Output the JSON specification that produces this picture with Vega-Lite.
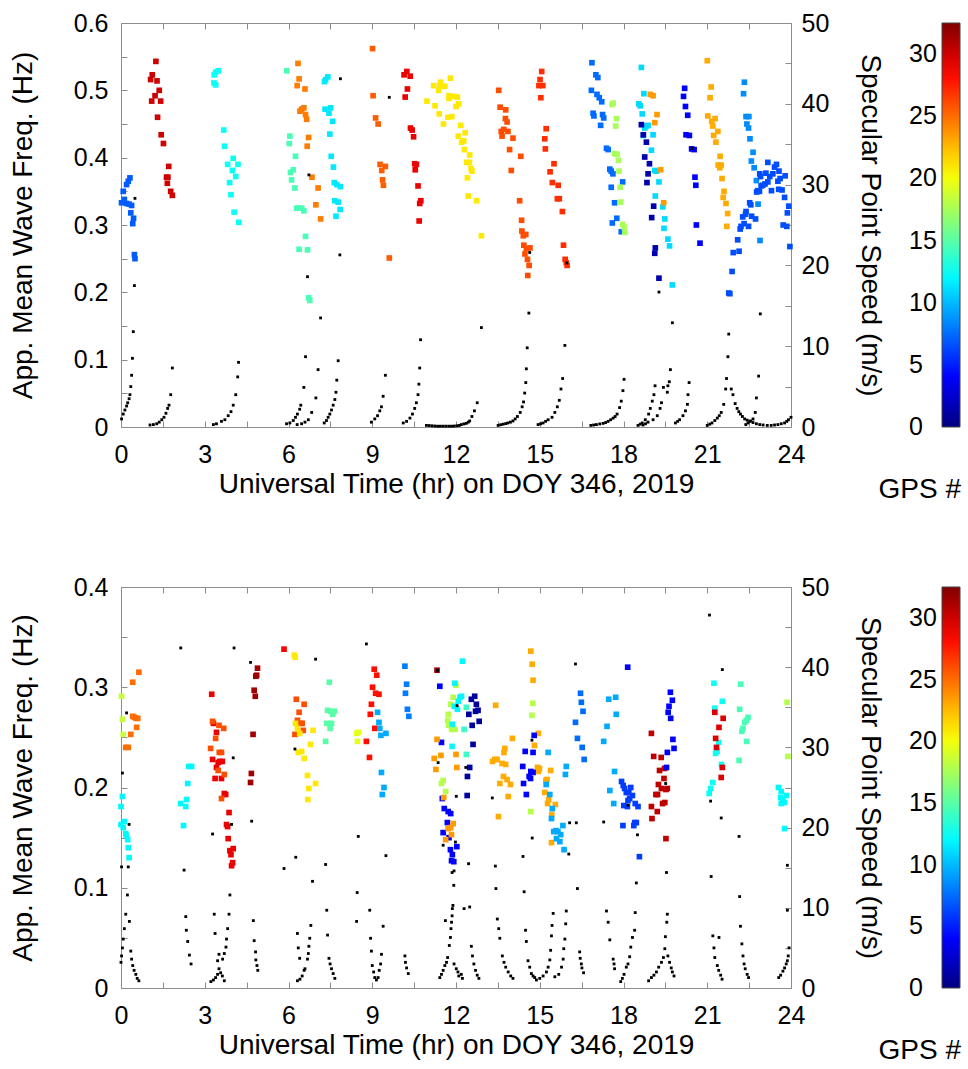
{
"$schema": "https://vega.github.io/schema/vega-lite/v6.json",
"padding": {"left": 8, "top": 10, "right": 0, "bottom": 0},
"background": "white",
"spacing": 69,
"config": {
  "font": "Liberation Sans",
  "view": {"stroke": "#8c8c8c", "strokeWidth": 1},
  "axis": {"grid": false, "domain": false, "labelFont": "Liberation Sans", "labelFontSize": 25, "labelColor": "#000000", "titleFont": "Liberation Sans", "titleFontSize": 28, "titleFontWeight": "normal", "titleColor": "#000000", "tickColor": "#8c8c8c", "tickSize": -6, "tickWidth": 1, "labelOverlap": false, "labelFlush": false},
  "legend": {"labelFont": "Liberation Sans", "titleFont": "Liberation Sans", "labelFontSize": 25, "titleFontSize": 28, "titleFontWeight": "normal", "labelColor": "#000000", "titleColor": "#000000"}
},
"datasets": {
"tq": [
{"h":0.02,"f":0.333,"g":7},{"h":0.12,"f":0.338,"g":7},{"h":0.2,"f":0.332,"g":7},{"h":0.29,"f":0.331,"g":7},{"h":0.38,"f":0.329,"g":7},{"h":0.08,"f":0.35,"g":7},{"h":0.2,"f":0.36,"g":7},{"h":0.26,"f":0.365,"g":7},{"h":0.32,"f":0.37,"g":7},{"h":0.35,"f":0.318,"g":7},{"h":0.42,"f":0.302,"g":7},{"h":0.45,"f":0.31,"g":7},{"h":0.48,"f":0.256,"g":7},{"h":0.5,"f":0.25,"g":7},
{"h":1.25,"f":0.543,"g":30},{"h":1.12,"f":0.523,"g":30},{"h":1.06,"f":0.516,"g":30},{"h":1.29,"f":0.514,"g":30},{"h":1.37,"f":0.5,"g":30},{"h":1.22,"f":0.492,"g":30},{"h":1.1,"f":0.484,"g":30},{"h":1.42,"f":0.484,"g":30},{"h":1.31,"f":0.46,"g":30},{"h":1.44,"f":0.434,"g":30},{"h":1.52,"f":0.421,"g":30},{"h":1.71,"f":0.387,"g":30},{"h":1.63,"f":0.371,"g":30},{"h":1.68,"f":0.371,"g":30},{"h":1.66,"f":0.362,"g":30},{"h":1.78,"f":0.35,"g":30},{"h":1.84,"f":0.344,"g":30},
{"h":3.33,"f":0.511,"g":12.5},{"h":3.39,"f":0.508,"g":12.5},{"h":3.34,"f":0.523,"g":12.5},{"h":3.39,"f":0.527,"g":12.5},{"h":3.48,"f":0.529,"g":12.5},{"h":3.68,"f":0.441,"g":12.5},{"h":3.71,"f":0.417,"g":12.5},{"h":3.82,"f":0.39,"g":12.5},{"h":4.02,"f":0.399,"g":12.5},{"h":4.19,"f":0.39,"g":12.5},{"h":3.99,"f":0.381,"g":12.5},{"h":4.11,"f":0.372,"g":12.5},{"h":3.89,"f":0.363,"g":12.5},{"h":3.94,"f":0.345,"g":12.5},{"h":4.05,"f":0.319,"g":12.5},{"h":4.22,"f":0.304,"g":12.5},
{"h":5.94,"f":0.529,"g":14.5},{"h":6.05,"f":0.432,"g":14.5},{"h":6.03,"f":0.421,"g":14.5},{"h":6.25,"f":0.402,"g":14.5},{"h":6.17,"f":0.382,"g":14.5},{"h":6.07,"f":0.378,"g":14.5},{"h":6.11,"f":0.367,"g":14.5},{"h":6.23,"f":0.355,"g":14.5},{"h":6.29,"f":0.325,"g":14.5},{"h":6.38,"f":0.325,"g":14.5},{"h":6.47,"f":0.325,"g":14.5},{"h":6.55,"f":0.321,"g":14.5},{"h":6.61,"f":0.283,"g":14.5},{"h":6.38,"f":0.264,"g":14.5},{"h":6.68,"f":0.263,"g":14.5},{"h":6.72,"f":0.192,"g":14.5},{"h":6.76,"f":0.188,"g":14.5},
{"h":6.34,"f":0.54,"g":24.5},{"h":6.38,"f":0.517,"g":24.5},{"h":6.31,"f":0.507,"g":24.5},{"h":6.59,"f":0.502,"g":24.5},{"h":6.41,"f":0.469,"g":24.5},{"h":6.47,"f":0.472,"g":24.5},{"h":6.55,"f":0.474,"g":24.5},{"h":6.61,"f":0.464,"g":24.5},{"h":6.65,"f":0.457,"g":24.5},{"h":6.72,"f":0.43,"g":24.5},{"h":6.67,"f":0.417,"g":24.5},{"h":6.84,"f":0.371,"g":24.5},{"h":7.06,"f":0.355,"g":24.5},{"h":6.98,"f":0.33,"g":24.5},{"h":7.15,"f":0.309,"g":24.5},
{"h":7.29,"f":0.513,"g":11.5},{"h":7.33,"f":0.516,"g":11.5},{"h":7.41,"f":0.52,"g":11.5},{"h":7.31,"f":0.472,"g":11.5},{"h":7.51,"f":0.474,"g":11.5},{"h":7.45,"f":0.466,"g":11.5},{"h":7.58,"f":0.454,"g":11.5},{"h":7.48,"f":0.435,"g":11.5},{"h":7.53,"f":0.402,"g":11.5},{"h":7.61,"f":0.386,"g":11.5},{"h":7.64,"f":0.363,"g":11.5},{"h":7.73,"f":0.36,"g":11.5},{"h":7.86,"f":0.357,"g":11.5},{"h":7.66,"f":0.336,"g":11.5},{"h":7.78,"f":0.334,"g":11.5},{"h":7.7,"f":0.313,"g":11.5},{"h":7.85,"f":0.323,"g":11.5},
{"h":9.01,"f":0.562,"g":25.5},{"h":9.03,"f":0.492,"g":25.5},{"h":9.12,"f":0.459,"g":25.5},{"h":9.21,"f":0.45,"g":25.5},{"h":9.28,"f":0.39,"g":25.5},{"h":9.47,"f":0.387,"g":25.5},{"h":9.34,"f":0.381,"g":25.5},{"h":9.37,"f":0.367,"g":25.5},{"h":9.4,"f":0.359,"g":25.5},{"h":9.61,"f":0.251,"g":25.5},
{"h":10.14,"f":0.523,"g":29},{"h":10.24,"f":0.528,"g":29},{"h":10.36,"f":0.521,"g":29},{"h":10.26,"f":0.502,"g":29},{"h":10.18,"f":0.49,"g":29},{"h":10.37,"f":0.444,"g":29},{"h":10.43,"f":0.441,"g":29},{"h":10.48,"f":0.431,"g":29},{"h":10.52,"f":0.391,"g":29},{"h":10.58,"f":0.39,"g":29},{"h":10.54,"f":0.382,"g":29},{"h":10.64,"f":0.358,"g":29},{"h":10.74,"f":0.336,"g":29},{"h":10.7,"f":0.332,"g":29},{"h":10.68,"f":0.306,"g":29},
{"h":11.2,"f":0.507,"g":21},{"h":11.45,"f":0.512,"g":21},{"h":11.42,"f":0.507,"g":21},{"h":11.6,"f":0.506,"g":21},{"h":11.8,"f":0.518,"g":21},{"h":11.38,"f":0.5,"g":21},{"h":10.96,"f":0.484,"g":21},{"h":11.25,"f":0.477,"g":21},{"h":11.75,"f":0.492,"g":21},{"h":11.75,"f":0.488,"g":21},{"h":11.92,"f":0.491,"g":21},{"h":12.05,"f":0.49,"g":21},{"h":12.1,"f":0.48,"g":21},{"h":12.0,"f":0.476,"g":21},{"h":11.4,"f":0.465,"g":21},{"h":11.71,"f":0.46,"g":21},{"h":11.85,"f":0.461,"g":21},{"h":11.55,"f":0.45,"g":21},{"h":12.17,"f":0.448,"g":21},{"h":12.33,"f":0.437,"g":21},{"h":12.08,"f":0.432,"g":21},{"h":12.28,"f":0.425,"g":21},{"h":12.2,"f":0.423,"g":21},{"h":12.3,"f":0.412,"g":21},{"h":12.49,"f":0.404,"g":21},{"h":12.38,"f":0.393,"g":21},{"h":12.48,"f":0.393,"g":21},{"h":12.54,"f":0.384,"g":21},{"h":12.57,"f":0.38,"g":21},{"h":12.41,"f":0.37,"g":21},{"h":12.44,"f":0.343,"g":21},{"h":12.74,"f":0.336,"g":21},{"h":12.91,"f":0.284,"g":21},
{"h":13.53,"f":0.5,"g":26},{"h":13.58,"f":0.475,"g":26},{"h":13.78,"f":0.471,"g":26},{"h":13.77,"f":0.458,"g":26},{"h":13.83,"f":0.453,"g":26},{"h":13.71,"f":0.442,"g":26},{"h":13.62,"f":0.439,"g":26},{"h":13.86,"f":0.439,"g":26},{"h":13.65,"f":0.432,"g":26},{"h":14.04,"f":0.429,"g":26},{"h":13.92,"f":0.412,"g":26},{"h":14.32,"f":0.402,"g":26},{"h":13.98,"f":0.381,"g":26},{"h":14.28,"f":0.336,"g":26},{"h":14.35,"f":0.307,"g":26},{"h":14.36,"f":0.291,"g":26},{"h":14.41,"f":0.284,"g":26},{"h":14.5,"f":0.286,"g":26},{"h":14.43,"f":0.27,"g":26},{"h":14.65,"f":0.266,"g":26},{"h":14.47,"f":0.257,"g":26},{"h":14.52,"f":0.265,"g":26},{"h":14.56,"f":0.249,"g":26},{"h":14.62,"f":0.24,"g":26},{"h":14.57,"f":0.225,"g":26},
{"h":15.07,"f":0.528,"g":27},{"h":15.01,"f":0.516,"g":27},{"h":14.97,"f":0.507,"g":27},{"h":15.11,"f":0.507,"g":27},{"h":15.04,"f":0.489,"g":27},{"h":15.23,"f":0.443,"g":27},{"h":15.18,"f":0.428,"g":27},{"h":15.2,"f":0.413,"g":27},{"h":15.51,"f":0.391,"g":27},{"h":15.37,"f":0.379,"g":27},{"h":15.45,"f":0.363,"g":27},{"h":15.66,"f":0.359,"g":27},{"h":15.63,"f":0.339,"g":27},{"h":15.7,"f":0.339,"g":27},{"h":15.81,"f":0.32,"g":27},{"h":15.85,"f":0.27,"g":27},{"h":15.91,"f":0.249,"g":27},{"h":15.98,"f":0.24,"g":27},{"h":15.95,"f":0.244,"g":27},
{"h":16.87,"f":0.541,"g":7.5},{"h":17.01,"f":0.523,"g":7.5},{"h":17.08,"f":0.519,"g":7.5},{"h":16.85,"f":0.5,"g":7.5},{"h":17.05,"f":0.494,"g":7.5},{"h":17.13,"f":0.489,"g":7.5},{"h":17.22,"f":0.483,"g":7.5},{"h":16.91,"f":0.466,"g":7.5},{"h":16.94,"f":0.462,"g":7.5},{"h":17.25,"f":0.464,"g":7.5},{"h":17.29,"f":0.459,"g":7.5},{"h":17.18,"f":0.448,"g":7.5},{"h":17.39,"f":0.414,"g":7.5},{"h":17.45,"f":0.412,"g":7.5},{"h":17.51,"f":0.383,"g":7.5},{"h":17.56,"f":0.38,"g":7.5},{"h":17.62,"f":0.376,"g":7.5},{"h":17.97,"f":0.364,"g":7.5},{"h":17.56,"f":0.356,"g":7.5},{"h":17.68,"f":0.333,"g":7.5},{"h":17.76,"f":0.31,"g":7.5},{"h":17.6,"f":0.303,"g":7.5},{"h":17.92,"f":0.29,"g":7.5},
{"h":17.59,"f":0.479,"g":17.5},{"h":17.63,"f":0.481,"g":17.5},{"h":17.75,"f":0.458,"g":17.5},{"h":17.72,"f":0.447,"g":17.5},{"h":17.68,"f":0.406,"g":17.5},{"h":17.77,"f":0.405,"g":17.5},{"h":17.82,"f":0.396,"g":17.5},{"h":17.84,"f":0.38,"g":17.5},{"h":17.88,"f":0.356,"g":17.5},{"h":17.9,"f":0.334,"g":17.5},{"h":17.97,"f":0.301,"g":17.5},{"h":18.02,"f":0.297,"g":17.5},{"h":18.05,"f":0.289,"g":17.5},
{"h":18.64,"f":0.534,"g":11},{"h":18.73,"f":0.495,"g":11},{"h":18.55,"f":0.48,"g":11},{"h":18.6,"f":0.477,"g":11},{"h":18.67,"f":0.465,"g":11},{"h":18.82,"f":0.447,"g":11},{"h":18.88,"f":0.448,"g":11},{"h":18.76,"f":0.444,"g":11},{"h":18.71,"f":0.433,"g":11},{"h":19.06,"f":0.434,"g":11},{"h":19.0,"f":0.411,"g":11},{"h":19.12,"f":0.381,"g":11},{"h":19.18,"f":0.38,"g":11},{"h":19.27,"f":0.364,"g":11},{"h":19.14,"f":0.343,"g":11},{"h":19.41,"f":0.327,"g":11},{"h":19.48,"f":0.309,"g":11},{"h":19.45,"f":0.295,"g":11},{"h":19.59,"f":0.279,"g":11},{"h":19.65,"f":0.269,"g":11},{"h":19.75,"f":0.211,"g":11},
{"h":18.96,"f":0.494,"g":23.5},{"h":19.06,"f":0.492,"g":23.5},{"h":19.2,"f":0.464,"g":23.5},{"h":19.12,"f":0.452,"g":23.5},{"h":19.33,"f":0.382,"g":23.5},{"h":19.44,"f":0.333,"g":23.5},
{"h":18.64,"f":0.449,"g":1.5},{"h":18.71,"f":0.434,"g":1.5},{"h":18.82,"f":0.423,"g":1.5},{"h":18.76,"f":0.401,"g":1.5},{"h":18.93,"f":0.391,"g":1.5},{"h":18.88,"f":0.376,"g":1.5},{"h":18.84,"f":0.363,"g":1.5},{"h":19.08,"f":0.328,"g":1.5},{"h":19.01,"f":0.311,"g":1.5},{"h":19.14,"f":0.266,"g":1.5},{"h":19.12,"f":0.258,"g":1.5},{"h":19.27,"f":0.221,"g":1.5},
{"h":20.19,"f":0.503,"g":4},{"h":20.15,"f":0.491,"g":4},{"h":20.22,"f":0.476,"g":4},{"h":20.3,"f":0.463,"g":4},{"h":20.24,"f":0.434,"g":4},{"h":20.36,"f":0.433,"g":4},{"h":20.44,"f":0.413,"g":4},{"h":20.53,"f":0.412,"g":4},{"h":20.56,"f":0.371,"g":4},{"h":20.59,"f":0.359,"g":4},{"h":20.61,"f":0.3,"g":4},{"h":20.74,"f":0.273,"g":4},
{"h":21.0,"f":0.544,"g":23},{"h":21.14,"f":0.505,"g":23},{"h":21.1,"f":0.489,"g":23},{"h":21.02,"f":0.462,"g":23},{"h":21.28,"f":0.458,"g":23},{"h":21.16,"f":0.454,"g":23},{"h":21.2,"f":0.447,"g":23},{"h":21.38,"f":0.439,"g":23},{"h":21.23,"f":0.433,"g":23},{"h":21.31,"f":0.423,"g":23},{"h":21.46,"f":0.402,"g":23},{"h":21.39,"f":0.389,"g":23},{"h":21.5,"f":0.389,"g":23},{"h":21.45,"f":0.385,"g":23},{"h":21.53,"f":0.369,"g":23},{"h":21.6,"f":0.35,"g":23},{"h":21.57,"f":0.341,"g":23},{"h":21.67,"f":0.332,"g":23},{"h":21.73,"f":0.317,"g":23},{"h":21.7,"f":0.298,"g":23},
{"h":22.33,"f":0.512,"g":8.5},{"h":22.3,"f":0.495,"g":8.5},{"h":22.39,"f":0.461,"g":8.5},{"h":22.49,"f":0.461,"g":8.5},{"h":22.42,"f":0.45,"g":8.5},{"h":22.48,"f":0.444,"g":8.5},{"h":22.53,"f":0.428,"g":8.5},{"h":22.64,"f":0.408,"g":8.5},{"h":22.58,"f":0.395,"g":8.5},{"h":22.68,"f":0.385,"g":8.5},{"h":22.76,"f":0.366,"g":8.5},{"h":22.82,"f":0.331,"g":8.5},{"h":22.89,"f":0.277,"g":8.5},
{"h":21.77,"f":0.199,"g":6.5},{"h":21.81,"f":0.198,"g":6.5},{"h":21.89,"f":0.231,"g":6.5},{"h":21.93,"f":0.259,"g":6.5},{"h":22.14,"f":0.261,"g":6.5},{"h":22.09,"f":0.278,"g":6.5},{"h":22.18,"f":0.294,"g":6.5},{"h":22.21,"f":0.298,"g":6.5},{"h":22.32,"f":0.302,"g":6.5},{"h":22.48,"f":0.298,"g":6.5},{"h":22.27,"f":0.312,"g":6.5},{"h":22.39,"f":0.32,"g":6.5},{"h":22.37,"f":0.316,"g":6.5},{"h":22.59,"f":0.313,"g":6.5},{"h":22.73,"f":0.309,"g":6.5},{"h":22.52,"f":0.333,"g":6.5},{"h":22.56,"f":0.33,"g":6.5},{"h":22.77,"f":0.349,"g":6.5},{"h":22.87,"f":0.35,"g":6.5},{"h":22.93,"f":0.358,"g":6.5},{"h":22.99,"f":0.359,"g":6.5},{"h":23.07,"f":0.361,"g":6.5},{"h":23.17,"f":0.364,"g":6.5},{"h":22.91,"f":0.372,"g":6.5},{"h":22.88,"f":0.376,"g":6.5},{"h":23.1,"f":0.377,"g":6.5},{"h":23.35,"f":0.376,"g":6.5},{"h":23.24,"f":0.372,"g":6.5},{"h":23.17,"f":0.393,"g":6.5},{"h":23.41,"f":0.386,"g":6.5},{"h":23.48,"f":0.39,"g":6.5},{"h":23.57,"f":0.38,"g":6.5},{"h":23.61,"f":0.369,"g":6.5},{"h":23.79,"f":0.373,"g":6.5},{"h":23.53,"f":0.365,"g":6.5},{"h":23.3,"f":0.351,"g":6.5},{"h":23.56,"f":0.353,"g":6.5},{"h":23.68,"f":0.352,"g":6.5},{"h":23.77,"f":0.341,"g":6.5},{"h":22.81,"f":0.351,"g":6.5},{"h":23.92,"f":0.328,"g":6.5},{"h":23.87,"f":0.318,"g":6.5},{"h":23.72,"f":0.3,"g":6.5},{"h":23.85,"f":0.298,"g":6.5},{"h":23.96,"f":0.268,"g":6.5}
],
"td": [
{"h":0.02,"s":1.0},{"h":0.08,"s":1.6},{"h":0.14,"s":2.1},{"h":0.2,"s":2.6},{"h":0.24,"s":3.0},{"h":0.29,"s":3.5},{"h":0.32,"s":4.0},{"h":0.35,"s":5.0},{"h":0.38,"s":6.4},{"h":0.41,"s":8.5},{"h":0.44,"s":11.8},{"h":0.48,"s":17.5},{"h":0.5,"s":28.3},
{"h":1.04,"s":0.25},{"h":1.16,"s":0.3},{"h":1.28,"s":0.4},{"h":1.37,"s":0.6},{"h":1.46,"s":0.9},{"h":1.54,"s":1.2},{"h":1.61,"s":1.7},{"h":1.67,"s":2.3},{"h":1.72,"s":2.7},{"h":1.78,"s":4.0},{"h":1.84,"s":7.3},
{"h":3.31,"s":0.3},{"h":3.42,"s":0.4},{"h":3.6,"s":0.7},{"h":3.72,"s":0.9},{"h":3.84,"s":1.4},{"h":3.94,"s":1.9},{"h":4.02,"s":2.7},{"h":4.11,"s":4.0},{"h":4.18,"s":6.2},{"h":4.21,"s":8.0},
{"h":5.93,"s":0.4},{"h":6.05,"s":0.5},{"h":6.17,"s":0.8},{"h":6.25,"s":1.2},{"h":6.32,"s":1.6},{"h":6.4,"s":2.2},{"h":6.44,"s":2.7},{"h":6.55,"s":4.9},{"h":6.61,"s":8.7},{"h":6.68,"s":18.6},{"h":6.73,"s":31.2},
{"h":6.31,"s":0.3},{"h":6.47,"s":0.4},{"h":6.59,"s":0.6},{"h":6.71,"s":0.9},{"h":6.83,"s":1.8},{"h":6.98,"s":3.6},{"h":7.06,"s":7.1},{"h":7.15,"s":13.5},
{"h":7.28,"s":0.5},{"h":7.36,"s":0.8},{"h":7.42,"s":1.2},{"h":7.48,"s":1.6},{"h":7.54,"s":2.1},{"h":7.6,"s":2.7},{"h":7.66,"s":3.4},{"h":7.7,"s":4.3},{"h":7.73,"s":5.8},{"h":7.78,"s":8.2},{"h":7.84,"s":21.3},{"h":7.86,"s":43.1},
{"h":8.97,"s":0.6},{"h":9.09,"s":1.0},{"h":9.19,"s":1.4},{"h":9.27,"s":2.0},{"h":9.33,"s":2.5},{"h":9.39,"s":3.8},{"h":9.47,"s":6.4},{"h":9.61,"s":40.8},
{"h":10.11,"s":0.5},{"h":10.23,"s":0.7},{"h":10.35,"s":1.1},{"h":10.44,"s":1.6},{"h":10.52,"s":2.3},{"h":10.58,"s":3.0},{"h":10.64,"s":4.0},{"h":10.67,"s":5.3},{"h":10.7,"s":7.3},{"h":10.73,"s":10.8},
{"h":10.94,"s":0.2},{"h":11.04,"s":0.18},{"h":11.14,"s":0.15},{"h":11.24,"s":0.12},{"h":11.34,"s":0.1},{"h":11.44,"s":0.1},{"h":11.54,"s":0.1},{"h":11.64,"s":0.1},{"h":11.74,"s":0.1},{"h":11.84,"s":0.1},{"h":11.94,"s":0.12},{"h":12.04,"s":0.15},{"h":12.12,"s":0.2},{"h":12.19,"s":0.3},{"h":12.28,"s":0.38},{"h":12.37,"s":0.45},{"h":12.44,"s":0.6},{"h":12.49,"s":0.75},{"h":12.57,"s":1.3},{"h":12.66,"s":2.0},{"h":12.76,"s":3.0},{"h":12.91,"s":12.3},
{"h":13.51,"s":0.2},{"h":13.6,"s":0.28},{"h":13.69,"s":0.35},{"h":13.78,"s":0.42},{"h":13.86,"s":0.5},{"h":13.95,"s":0.6},{"h":14.04,"s":0.75},{"h":14.12,"s":1.0},{"h":14.2,"s":1.3},{"h":14.3,"s":1.8},{"h":14.37,"s":2.5},{"h":14.42,"s":3.1},{"h":14.46,"s":4.2},{"h":14.5,"s":5.5},{"h":14.52,"s":7.2},{"h":14.55,"s":9.8},{"h":14.61,"s":14.1},{"h":14.64,"s":21.6},
{"h":14.94,"s":0.3},{"h":15.03,"s":0.4},{"h":15.12,"s":0.5},{"h":15.21,"s":0.7},{"h":15.3,"s":0.9},{"h":15.44,"s":1.2},{"h":15.54,"s":1.8},{"h":15.63,"s":2.5},{"h":15.7,"s":3.3},{"h":15.76,"s":4.7},{"h":15.82,"s":6.0},{"h":15.9,"s":10.1},{"h":15.97,"s":20.3},
{"h":16.83,"s":0.2},{"h":16.93,"s":0.25},{"h":17.03,"s":0.3},{"h":17.15,"s":0.38},{"h":17.27,"s":0.45},{"h":17.36,"s":0.55},{"h":17.45,"s":0.7},{"h":17.54,"s":0.9},{"h":17.63,"s":1.1},{"h":17.7,"s":1.3},{"h":17.77,"s":1.6},{"h":17.86,"s":2.4},{"h":17.92,"s":3.2},{"h":17.98,"s":4.5},{"h":18.02,"s":5.9},
{"h":18.52,"s":0.2},{"h":18.6,"s":0.35},{"h":18.67,"s":0.5},{"h":18.78,"s":0.9},{"h":18.9,"s":1.6},{"h":18.96,"s":2.3},{"h":19.03,"s":3.2},{"h":19.09,"s":4.0},{"h":19.13,"s":5.1},
{"h":18.7,"s":0.25},{"h":18.79,"s":0.4},{"h":18.88,"s":0.6},{"h":19.06,"s":0.9},{"h":19.21,"s":1.4},{"h":19.31,"s":2.3},{"h":19.36,"s":3.0},{"h":19.43,"s":4.9},{"h":19.57,"s":4.3},{"h":19.59,"s":5.1},{"h":19.64,"s":5.6},{"h":19.68,"s":7.1},{"h":19.75,"s":12.9},{"h":19.27,"s":16.7},
{"h":19.86,"s":0.5},{"h":19.94,"s":0.7},{"h":20.01,"s":0.9},{"h":20.13,"s":1.4},{"h":20.22,"s":2.0},{"h":20.29,"s":2.8},{"h":20.31,"s":4.0},{"h":20.35,"s":5.5},{"h":20.46,"s":34.5},
{"h":21.0,"s":0.2},{"h":21.09,"s":0.35},{"h":21.17,"s":0.5},{"h":21.27,"s":0.8},{"h":21.36,"s":1.1},{"h":21.43,"s":1.4},{"h":21.5,"s":1.8},{"h":21.59,"s":2.8},{"h":21.66,"s":4.7},{"h":21.69,"s":6.0},{"h":21.74,"s":8.7},{"h":21.77,"s":11.5},{"h":21.86,"s":4.7},{"h":21.92,"s":4.0},
{"h":22.0,"s":2.9},{"h":22.07,"s":2.3},{"h":22.13,"s":1.9},{"h":22.19,"s":1.6},{"h":22.26,"s":1.3},{"h":22.34,"s":1.0},{"h":22.43,"s":0.85},{"h":22.52,"s":0.7},{"h":22.64,"s":0.55},{"h":22.76,"s":0.4},{"h":22.88,"s":0.3},{"h":23.0,"s":0.25},{"h":23.15,"s":0.2},{"h":23.29,"s":0.2},{"h":23.41,"s":0.25},{"h":23.53,"s":0.3},{"h":23.65,"s":0.4},{"h":23.77,"s":0.5},{"h":23.85,"s":0.7},{"h":23.91,"s":0.9},{"h":24.0,"s":1.2},
{"h":22.38,"s":0.3},{"h":22.46,"s":0.5},{"h":22.56,"s":0.75},{"h":22.64,"s":1.0},{"h":22.72,"s":1.8},{"h":22.76,"s":3.6},{"h":22.84,"s":6.3},{"h":22.9,"s":14.0}
],
"bq": [
{"h":0.0,"f":0.181,"g":12},{"h":0.05,"f":0.191,"g":12},{"h":0.0,"f":0.163,"g":12},{"h":0.08,"f":0.16,"g":12},{"h":0.12,"f":0.166,"g":12},{"h":0.17,"f":0.154,"g":12},{"h":0.19,"f":0.152,"g":12},{"h":0.24,"f":0.148,"g":12},{"h":0.26,"f":0.14,"g":12},{"h":0.29,"f":0.13,"g":12},
{"h":0.02,"f":0.291,"g":18.5},{"h":0.05,"f":0.268,"g":18.5},{"h":0.08,"f":0.253,"g":18.5},
{"h":0.17,"f":0.24,"g":25},{"h":0.26,"f":0.24,"g":25},{"h":0.35,"f":0.253,"g":25},{"h":0.42,"f":0.271,"g":25},{"h":0.48,"f":0.27,"g":25},{"h":0.54,"f":0.269,"g":25},{"h":0.6,"f":0.269,"g":25},{"h":0.56,"f":0.26,"g":25},{"h":0.42,"f":0.305,"g":25},{"h":0.64,"f":0.315,"g":25},
{"h":2.14,"f":0.184,"g":12},{"h":2.32,"f":0.181,"g":12},{"h":2.35,"f":0.188,"g":12},{"h":2.24,"f":0.162,"g":12},{"h":2.39,"f":0.204,"g":12},{"h":2.43,"f":0.221,"g":12},{"h":2.53,"f":0.221,"g":12},
{"h":3.25,"f":0.293,"g":29},{"h":3.31,"f":0.264,"g":29},{"h":3.42,"f":0.255,"g":29},{"h":3.28,"f":0.228,"g":29},{"h":3.42,"f":0.22,"g":29},{"h":3.48,"f":0.225,"g":29},{"h":3.54,"f":0.226,"g":29},{"h":3.63,"f":0.226,"g":29},{"h":3.37,"f":0.209,"g":29},{"h":3.6,"f":0.209,"g":29},{"h":3.7,"f":0.194,"g":29},{"h":3.75,"f":0.193,"g":29},{"h":3.87,"f":0.175,"g":29},{"h":3.78,"f":0.163,"g":29},{"h":3.82,"f":0.161,"g":29},{"h":3.84,"f":0.149,"g":29},{"h":3.9,"f":0.137,"g":29},{"h":4.02,"f":0.139,"g":29},{"h":3.94,"f":0.133,"g":29},{"h":4.0,"f":0.125,"g":29},{"h":3.96,"f":0.122,"g":29},
{"h":3.28,"f":0.266,"g":26},{"h":3.51,"f":0.262,"g":26},{"h":3.68,"f":0.259,"g":26},{"h":3.39,"f":0.249,"g":26},{"h":3.21,"f":0.239,"g":26},{"h":3.52,"f":0.235,"g":26},{"h":3.6,"f":0.235,"g":26},{"h":3.48,"f":0.217,"g":26},{"h":3.7,"f":0.213,"g":26},{"h":3.6,"f":0.189,"g":26},
{"h":4.89,"f":0.319,"g":31.5},{"h":4.86,"f":0.312,"g":31.5},{"h":4.83,"f":0.311,"g":31.5},{"h":4.77,"f":0.297,"g":31.5},{"h":4.81,"f":0.291,"g":31.5},{"h":4.73,"f":0.253,"g":31.5},{"h":4.67,"f":0.214,"g":31.5},{"h":4.64,"f":0.205,"g":31.5},
{"h":5.84,"f":0.338,"g":28.5},
{"h":6.28,"f":0.288,"g":26},{"h":6.56,"f":0.283,"g":26},{"h":6.38,"f":0.275,"g":26},{"h":6.32,"f":0.267,"g":26},{"h":6.41,"f":0.264,"g":26},{"h":6.49,"f":0.264,"g":26},{"h":6.23,"f":0.253,"g":26},{"h":6.53,"f":0.257,"g":26},
{"h":6.21,"f":0.332,"g":21},{"h":6.24,"f":0.33,"g":21},{"h":6.25,"f":0.264,"g":21},{"h":6.32,"f":0.259,"g":21},{"h":6.4,"f":0.254,"g":21},{"h":6.35,"f":0.235,"g":21},{"h":6.47,"f":0.236,"g":21},{"h":6.56,"f":0.229,"g":21},{"h":6.68,"f":0.212,"g":21},{"h":6.73,"f":0.199,"g":21},{"h":6.69,"f":0.188,"g":21},{"h":6.97,"f":0.204,"g":21},{"h":6.79,"f":0.243,"g":21},{"h":6.88,"f":0.257,"g":21},
{"h":7.46,"f":0.305,"g":15},{"h":7.4,"f":0.277,"g":15},{"h":7.51,"f":0.276,"g":15},{"h":7.58,"f":0.273,"g":15},{"h":7.64,"f":0.276,"g":15},{"h":7.37,"f":0.264,"g":15},{"h":7.54,"f":0.264,"g":15},{"h":7.49,"f":0.259,"g":15},{"h":7.33,"f":0.246,"g":15},
{"h":8.44,"f":0.254,"g":19.5},{"h":8.51,"f":0.255,"g":19.5},{"h":8.47,"f":0.246,"g":19.5},
{"h":9.07,"f":0.318,"g":28},{"h":9.16,"f":0.312,"g":28},{"h":9.01,"f":0.3,"g":28},{"h":9.12,"f":0.294,"g":28},{"h":9.24,"f":0.293,"g":28},{"h":8.97,"f":0.283,"g":28},{"h":8.93,"f":0.273,"g":28},{"h":8.79,"f":0.246,"g":28},{"h":8.9,"f":0.23,"g":28},{"h":9.09,"f":0.259,"g":28},
{"h":9.19,"f":0.275,"g":9.5},{"h":9.24,"f":0.265,"g":9.5},{"h":9.27,"f":0.259,"g":9.5},{"h":9.31,"f":0.252,"g":9.5},{"h":9.49,"f":0.254,"g":9.5},{"h":9.33,"f":0.215,"g":9.5},{"h":9.42,"f":0.2,"g":9.5},{"h":9.36,"f":0.193,"g":9.5},
{"h":10.17,"f":0.321,"g":8},{"h":10.23,"f":0.303,"g":8},{"h":10.19,"f":0.294,"g":8},{"h":10.26,"f":0.278,"g":8},{"h":10.31,"f":0.271,"g":8},
{"h":11.32,"f":0.317,"g":31.5},
{"h":11.42,"f":0.301,"g":4},{"h":11.48,"f":0.245,"g":4},{"h":11.51,"f":0.189,"g":4},{"h":11.58,"f":0.179,"g":4},{"h":11.72,"f":0.176,"g":4},{"h":11.81,"f":0.174,"g":4},{"h":11.69,"f":0.165,"g":4},{"h":11.54,"f":0.155,"g":4},{"h":11.75,"f":0.15,"g":4},{"h":12.03,"f":0.141,"g":4},{"h":11.8,"f":0.138,"g":4},{"h":11.87,"f":0.133,"g":4},{"h":11.84,"f":0.127,"g":4},{"h":11.92,"f":0.126,"g":4},
{"h":11.32,"f":0.248,"g":23.5},{"h":11.22,"f":0.229,"g":23.5},{"h":11.46,"f":0.232,"g":23.5},{"h":11.28,"f":0.218,"g":23.5},{"h":12.0,"f":0.233,"g":23.5},{"h":12.03,"f":0.22,"g":23.5},{"h":11.56,"f":0.19,"g":23.5},{"h":11.9,"f":0.164,"g":23.5},{"h":11.72,"f":0.159,"g":23.5},{"h":11.81,"f":0.16,"g":23.5},{"h":11.63,"f":0.148,"g":23.5},{"h":11.84,"f":0.153,"g":23.5},
{"h":12.0,"f":0.302,"g":18},{"h":11.9,"f":0.29,"g":18},{"h":11.81,"f":0.283,"g":18},{"h":11.72,"f":0.273,"g":18},{"h":11.7,"f":0.267,"g":18},{"h":11.74,"f":0.262,"g":18},{"h":11.84,"f":0.258,"g":18},{"h":11.96,"f":0.258,"g":18},{"h":11.54,"f":0.207,"g":18},{"h":11.48,"f":0.204,"g":18},{"h":11.63,"f":0.196,"g":18},{"h":14.75,"f":0.284,"g":18},{"h":14.72,"f":0.272,"g":18},{"h":14.68,"f":0.176,"g":18},{"h":23.86,"f":0.285,"g":18},{"h":23.89,"f":0.231,"g":18},
{"h":12.23,"f":0.326,"g":12},{"h":11.96,"f":0.304,"g":12},{"h":12.14,"f":0.29,"g":12},{"h":12.2,"f":0.291,"g":12},{"h":12.08,"f":0.286,"g":12},{"h":11.94,"f":0.281,"g":12},{"h":12.05,"f":0.278,"g":12},{"h":11.87,"f":0.263,"g":12},{"h":11.86,"f":0.241,"g":12},
{"h":12.37,"f":0.28,"g":14},{"h":12.29,"f":0.258,"g":14},{"h":12.37,"f":0.233,"g":14},
{"h":12.55,"f":0.288,"g":1},{"h":12.67,"f":0.291,"g":1},{"h":12.73,"f":0.283,"g":1},{"h":12.46,"f":0.273,"g":1},{"h":12.7,"f":0.276,"g":1},{"h":12.79,"f":0.277,"g":1},{"h":12.83,"f":0.266,"g":1},{"h":12.58,"f":0.262,"g":1},{"h":12.61,"f":0.243,"g":1},{"h":12.49,"f":0.22,"g":1},{"h":12.41,"f":0.211,"g":1},{"h":12.4,"f":0.192,"g":1},
{"h":13.42,"f":0.282,"g":23},{"h":14.02,"f":0.249,"g":23},{"h":13.75,"f":0.239,"g":23},{"h":13.72,"f":0.235,"g":23},{"h":13.39,"f":0.228,"g":23},{"h":13.47,"f":0.228,"g":23},{"h":13.31,"f":0.226,"g":23},{"h":13.65,"f":0.224,"g":23},{"h":13.78,"f":0.223,"g":23},{"h":13.7,"f":0.211,"g":23},{"h":13.83,"f":0.208,"g":23},{"h":13.57,"f":0.204,"g":23},{"h":13.95,"f":0.203,"g":23},{"h":13.87,"f":0.191,"g":23},{"h":13.52,"f":0.171,"g":23},
{"h":14.68,"f":0.336,"g":23},{"h":14.73,"f":0.323,"g":23},{"h":14.76,"f":0.307,"g":23},{"h":14.95,"f":0.254,"g":23},{"h":14.81,"f":0.242,"g":23},{"h":14.92,"f":0.22,"g":23},{"h":14.99,"f":0.219,"g":23},{"h":14.95,"f":0.216,"g":23},{"h":15.39,"f":0.217,"g":23},{"h":15.26,"f":0.208,"g":23},{"h":15.22,"f":0.207,"g":23},{"h":15.18,"f":0.195,"g":23},{"h":15.32,"f":0.188,"g":23},{"h":15.28,"f":0.184,"g":23},{"h":15.56,"f":0.183,"g":23},{"h":15.43,"f":0.173,"g":23},{"h":15.42,"f":0.145,"g":23},
{"h":14.8,"f":0.252,"g":4},{"h":14.48,"f":0.236,"g":4},{"h":14.76,"f":0.235,"g":4},{"h":14.39,"f":0.221,"g":4},{"h":14.68,"f":0.216,"g":4},{"h":14.76,"f":0.215,"g":4},{"h":14.42,"f":0.204,"g":4},{"h":14.62,"f":0.211,"g":4},{"h":14.67,"f":0.209,"g":4},{"h":14.52,"f":0.193,"g":4},
{"h":15.3,"f":0.235,"g":9.5},{"h":15.95,"f":0.221,"g":9.5},{"h":15.92,"f":0.213,"g":9.5},{"h":15.23,"f":0.203,"g":9.5},{"h":15.36,"f":0.193,"g":9.5},{"h":15.45,"f":0.179,"g":9.5},{"h":15.42,"f":0.169,"g":9.5},{"h":15.5,"f":0.156,"g":9.5},{"h":15.58,"f":0.157,"g":9.5},{"h":15.65,"f":0.156,"g":9.5},{"h":15.75,"f":0.153,"g":9.5},{"h":15.6,"f":0.149,"g":9.5},{"h":15.83,"f":0.162,"g":9.5},{"h":15.87,"f":0.138,"g":9.5},{"h":15.72,"f":0.146,"g":9.5},
{"h":16.46,"f":0.294,"g":7.5},{"h":16.49,"f":0.285,"g":7.5},{"h":16.55,"f":0.276,"g":7.5},{"h":16.28,"f":0.265,"g":7.5},{"h":16.35,"f":0.249,"g":7.5},{"h":16.52,"f":0.24,"g":7.5},{"h":16.59,"f":0.228,"g":7.5},
{"h":17.47,"f":0.288,"g":9.5},{"h":17.72,"f":0.29,"g":9.5},{"h":17.74,"f":0.273,"g":9.5},{"h":17.41,"f":0.261,"g":9.5},{"h":17.29,"f":0.246,"g":9.5},{"h":17.68,"f":0.216,"g":9.5},{"h":17.51,"f":0.197,"g":9.5},{"h":17.65,"f":0.184,"g":9.5},
{"h":17.93,"f":0.206,"g":6},{"h":17.99,"f":0.202,"g":6},{"h":18.04,"f":0.199,"g":6},{"h":18.1,"f":0.195,"g":6},{"h":18.19,"f":0.195,"g":6},{"h":18.26,"f":0.2,"g":6},{"h":18.32,"f":0.192,"g":6},{"h":18.22,"f":0.189,"g":6},{"h":18.16,"f":0.187,"g":6},{"h":18.01,"f":0.182,"g":6},{"h":18.14,"f":0.181,"g":6},{"h":18.42,"f":0.184,"g":6},{"h":18.52,"f":0.181,"g":6},{"h":17.98,"f":0.162,"g":6},{"h":18.4,"f":0.165,"g":6},{"h":18.46,"f":0.165,"g":6},{"h":18.37,"f":0.162,"g":6},{"h":18.57,"f":0.131,"g":6},
{"h":18.15,"f":0.32,"g":4},
{"h":19.0,"f":0.254,"g":30.5},{"h":19.08,"f":0.231,"g":30.5},{"h":19.35,"f":0.23,"g":30.5},{"h":19.29,"f":0.217,"g":30.5},{"h":19.47,"f":0.219,"g":30.5},{"h":19.45,"f":0.209,"g":30.5},{"h":19.25,"f":0.203,"g":30.5},{"h":19.36,"f":0.199,"g":30.5},{"h":19.16,"f":0.193,"g":30.5},{"h":19.22,"f":0.193,"g":30.5},{"h":19.52,"f":0.198,"g":30.5},{"h":19.57,"f":0.199,"g":30.5},{"h":19.48,"f":0.185,"g":30.5},{"h":19.0,"f":0.181,"g":30.5},{"h":19.4,"f":0.184,"g":30.5},{"h":19.21,"f":0.176,"g":30.5},{"h":19.02,"f":0.169,"g":30.5},{"h":19.52,"f":0.149,"g":30.5},
{"h":19.68,"f":0.295,"g":4},{"h":19.75,"f":0.287,"g":4},{"h":19.63,"f":0.281,"g":4},{"h":19.6,"f":0.275,"g":4},{"h":19.69,"f":0.269,"g":4},{"h":19.77,"f":0.248,"g":4},{"h":19.81,"f":0.239,"g":4},{"h":19.57,"f":0.235,"g":4},{"h":19.54,"f":0.22,"g":4},
{"h":21.24,"f":0.304,"g":12.5},{"h":21.27,"f":0.279,"g":12.5},{"h":21.54,"f":0.286,"g":12.5},{"h":21.41,"f":0.245,"g":12.5},{"h":21.35,"f":0.236,"g":12.5},{"h":21.3,"f":0.234,"g":12.5},{"h":21.51,"f":0.223,"g":12.5},{"h":21.2,"f":0.205,"g":12.5},{"h":21.12,"f":0.199,"g":12.5},{"h":21.07,"f":0.194,"g":12.5},
{"h":21.27,"f":0.275,"g":29.5},{"h":21.42,"f":0.26,"g":29.5},{"h":21.3,"f":0.249,"g":29.5},{"h":21.33,"f":0.24,"g":29.5},{"h":21.57,"f":0.269,"g":29.5},{"h":21.54,"f":0.22,"g":29.5},{"h":21.5,"f":0.21,"g":29.5},
{"h":22.2,"f":0.303,"g":14.5},{"h":22.16,"f":0.278,"g":14.5},{"h":22.46,"f":0.27,"g":14.5},{"h":22.4,"f":0.267,"g":14.5},{"h":22.34,"f":0.265,"g":14.5},{"h":22.28,"f":0.259,"g":14.5},{"h":22.24,"f":0.256,"g":14.5},{"h":22.41,"f":0.246,"g":14.5},{"h":22.14,"f":0.227,"g":14.5},
{"h":23.55,"f":0.2,"g":12},{"h":23.65,"f":0.196,"g":12},{"h":23.63,"f":0.19,"g":12},{"h":23.71,"f":0.188,"g":12},{"h":23.83,"f":0.192,"g":12},{"h":23.77,"f":0.185,"g":12},{"h":23.65,"f":0.184,"g":12},{"h":23.77,"f":0.159,"g":12}
],
"bd": [
{"h":0.0,"s":3.2},{"h":0.02,"s":4.0},{"h":0.05,"s":5.0},{"h":0.08,"s":6.1},{"h":0.12,"s":7.4},{"h":0.17,"s":9.2},{"h":0.23,"s":11.6},{"h":0.02,"s":15.1},{"h":0.26,"s":15.1},{"h":0.29,"s":20.4},{"h":0.05,"s":26.8},{"h":0.2,"s":34.3},{"h":0.3,"s":8.3},
{"h":0.35,"s":4.6},{"h":0.38,"s":3.6},{"h":0.42,"s":2.8},{"h":0.47,"s":2.2},{"h":0.53,"s":1.7},{"h":0.58,"s":1.2},{"h":0.64,"s":0.9},
{"h":2.14,"s":42.4},{"h":2.26,"s":14.7},{"h":2.32,"s":8.9},{"h":2.34,"s":7.2},{"h":2.39,"s":5.8},{"h":2.45,"s":4.1},{"h":2.51,"s":3.0},
{"h":3.22,"s":0.8},{"h":3.31,"s":1.0},{"h":3.39,"s":1.3},{"h":3.46,"s":1.7},{"h":3.51,"s":2.4},{"h":3.57,"s":1.9},{"h":3.63,"s":1.5},{"h":3.7,"s":0.9},{"h":3.64,"s":3.6},{"h":3.7,"s":4.3},{"h":3.76,"s":5.1},{"h":3.78,"s":6.1},{"h":3.82,"s":7.4},{"h":3.87,"s":9.2},{"h":3.9,"s":11.6},{"h":3.96,"s":20.4},{"h":4.02,"s":28.7},{"h":4.05,"s":42.4},{"h":3.34,"s":9.2},{"h":3.37,"s":6.8},{"h":3.28,"s":19.2},{"h":3.46,"s":3.4},{"h":3.51,"s":4.2},
{"h":4.64,"s":40.6},{"h":4.68,"s":20.8},{"h":4.74,"s":8.4},{"h":4.77,"s":5.9},{"h":4.82,"s":4.5},{"h":4.83,"s":3.5},{"h":4.87,"s":2.8},{"h":4.9,"s":2.2},
{"h":5.84,"s":14.9},{"h":6.23,"s":29.8},{"h":6.26,"s":16.3},{"h":6.32,"s":6.8},{"h":6.35,"s":5.0},{"h":6.4,"s":3.7},{"h":6.32,"s":0.9},{"h":6.41,"s":1.1},{"h":6.49,"s":1.5},{"h":6.56,"s":2.2},{"h":6.59,"s":2.4},
{"h":6.97,"s":41.0},{"h":6.86,"s":13.3},{"h":6.8,"s":7.8},{"h":6.76,"s":6.2},{"h":6.73,"s":5.2},{"h":6.71,"s":4.3},{"h":6.68,"s":3.6},
{"h":7.33,"s":15.4},{"h":7.37,"s":9.7},{"h":7.4,"s":6.6},{"h":7.45,"s":3.7},{"h":7.49,"s":3.0},{"h":7.54,"s":2.4},{"h":7.6,"s":1.8},{"h":7.66,"s":1.2},
{"h":8.79,"s":42.9},{"h":8.5,"s":18.9},{"h":8.46,"s":11.9},{"h":8.44,"s":8.3},
{"h":8.91,"s":9.7},{"h":8.94,"s":6.2},{"h":8.97,"s":4.6},{"h":9.0,"s":2.8},{"h":9.05,"s":2.0},{"h":9.09,"s":1.3},{"h":9.15,"s":1.0},{"h":9.21,"s":1.3},{"h":9.25,"s":2.2},{"h":9.3,"s":3.0},{"h":9.33,"s":4.2},{"h":9.39,"s":7.7},{"h":9.49,"s":16.5},
{"h":10.17,"s":4.0},{"h":10.19,"s":3.2},{"h":10.23,"s":2.5},{"h":10.29,"s":1.8},
{"h":11.34,"s":39.6},
{"h":11.42,"s":1.3},{"h":11.48,"s":1.7},{"h":11.54,"s":2.2},{"h":11.6,"s":2.8},{"h":11.66,"s":3.2},{"h":11.7,"s":3.8},{"h":11.76,"s":5.3},{"h":11.8,"s":6.3},{"h":11.82,"s":7.4},{"h":11.84,"s":8.2},{"h":11.86,"s":9.0},{"h":11.87,"s":9.9},{"h":11.89,"s":10.3},{"h":11.92,"s":12.8},{"h":11.86,"s":14.4},{"h":11.93,"s":14.6},{"h":11.54,"s":17.8},{"h":11.98,"s":18.2},{"h":12.01,"s":23.9},{"h":12.04,"s":35.2},{"h":11.36,"s":28.1},{"h":11.62,"s":8.4},
{"h":11.93,"s":3.0},{"h":12.01,"s":2.4},{"h":12.07,"s":2.0},{"h":12.1,"s":1.5},{"h":12.19,"s":1.7},{"h":12.23,"s":1.2},
{"h":12.29,"s":9.9},{"h":12.49,"s":10.1},{"h":12.45,"s":15.5},{"h":12.35,"s":27.5},
{"h":12.55,"s":5.2},{"h":12.59,"s":4.0},{"h":12.64,"s":3.0},{"h":12.7,"s":2.2},{"h":12.76,"s":1.6},{"h":12.82,"s":1.2},
{"h":13.3,"s":23.7},{"h":13.41,"s":15.2},{"h":13.43,"s":12.4},{"h":13.48,"s":8.6},{"h":13.53,"s":7.4},{"h":13.57,"s":6.2},{"h":13.66,"s":4.0},{"h":13.72,"s":3.2},{"h":13.78,"s":2.6},{"h":13.87,"s":2.0},{"h":13.96,"s":1.5},{"h":14.04,"s":1.2},
{"h":14.4,"s":16.4},{"h":14.44,"s":12.0},{"h":14.49,"s":7.2},{"h":14.52,"s":5.8},{"h":14.58,"s":3.4},{"h":14.64,"s":2.6},{"h":14.7,"s":1.8},{"h":14.76,"s":1.5},{"h":14.82,"s":1.3},{"h":14.73,"s":18.7},{"h":14.72,"s":30.9},
{"h":14.88,"s":1.0},{"h":15.0,"s":1.2},{"h":15.12,"s":1.5},{"h":15.24,"s":2.0},{"h":15.3,"s":2.6},{"h":15.36,"s":3.5},{"h":15.39,"s":4.7},{"h":15.42,"s":6.5},{"h":15.44,"s":7.8},{"h":15.48,"s":9.3},
{"h":15.54,"s":1.4},{"h":15.68,"s":1.7},{"h":15.78,"s":2.6},{"h":15.84,"s":3.6},{"h":15.86,"s":4.9},{"h":15.9,"s":6.1},{"h":15.93,"s":8.0},{"h":15.95,"s":9.6},{"h":16.04,"s":16.7},{"h":16.07,"s":20.6},{"h":16.31,"s":20.6},
{"h":16.35,"s":12.4},{"h":16.43,"s":4.5},{"h":16.45,"s":3.7},{"h":16.49,"s":3.0},{"h":16.51,"s":2.5},{"h":16.57,"s":1.9},{"h":16.28,"s":40.4},
{"h":17.29,"s":20.7},{"h":17.39,"s":9.6},{"h":17.45,"s":8.2},{"h":17.51,"s":6.0},{"h":17.63,"s":3.6},{"h":17.66,"s":3.0},{"h":17.68,"s":2.4},
{"h":17.9,"s":0.8},{"h":17.96,"s":1.2},{"h":18.02,"s":1.7},{"h":18.1,"s":2.6},{"h":18.16,"s":3.0},{"h":18.22,"s":3.9},{"h":18.26,"s":5.1},{"h":18.32,"s":6.3},{"h":18.4,"s":7.2},{"h":18.42,"s":9.4},{"h":18.46,"s":13.1},{"h":18.5,"s":19.1},{"h":18.16,"s":22.8},
{"h":18.9,"s":0.9},{"h":19.0,"s":1.3},{"h":19.09,"s":1.6},{"h":19.18,"s":2.0},{"h":19.26,"s":2.6},{"h":19.36,"s":3.2},{"h":19.43,"s":3.8},{"h":19.48,"s":4.9},{"h":19.5,"s":6.4},{"h":19.55,"s":8.2},{"h":19.57,"s":9.2},{"h":19.54,"s":14.4},{"h":19.51,"s":25.5},
{"h":19.59,"s":4.0},{"h":19.65,"s":3.2},{"h":19.71,"s":2.5},{"h":19.75,"s":2.0},{"h":19.81,"s":1.5},
{"h":21.08,"s":46.5},{"h":21.14,"s":13.9},{"h":21.12,"s":23.3},{"h":21.2,"s":6.5},{"h":21.42,"s":6.3},{"h":21.24,"s":5.0},{"h":21.27,"s":3.8},{"h":21.36,"s":2.8},{"h":21.41,"s":2.2},{"h":21.48,"s":1.6},{"h":21.53,"s":1.1},{"h":21.54,"s":39.7},{"h":21.5,"s":21.2},
{"h":22.14,"s":18.9},{"h":22.16,"s":11.4},{"h":22.19,"s":7.7},{"h":22.24,"s":5.5},{"h":22.28,"s":4.0},{"h":22.32,"s":3.0},{"h":22.36,"s":2.4},{"h":22.43,"s":1.7},{"h":22.48,"s":1.3},
{"h":23.56,"s":1.3},{"h":23.63,"s":1.6},{"h":23.71,"s":2.1},{"h":23.77,"s":2.5},{"h":23.83,"s":3.0},{"h":23.87,"s":3.4},{"h":23.9,"s":4.0},{"h":23.93,"s":5.0},{"h":23.87,"s":9.7},{"h":23.87,"s":15.3}
]
},
"resolve": {"scale": {"x": "independent", "y": "independent", "color": "independent"}},
"vconcat": [
{
 "width": 670, "height": 404,
 "layer": [
  {"data": {"name": "tq"}, "mark": {"type": "square", "size": 32, "opacity": 1},
   "encoding": {
    "x": {"field": "h", "type": "quantitative", "scale": {"domain": [0, 24], "nice": false, "zero": false},
          "axis": {"orient": "bottom", "values": [0,1.5,3,4.5,6,7.5,9,10.5,12,13.5,15,16.5,18,19.5,21,22.5,24], "labelExpr": "datum.value % 3 == 0 ? format(datum.value, 'd') : ''", "title": "Universal Time (hr) on DOY 346, 2019", "labelPadding": 21, "titlePadding": 3}},
    "y": {"field": "f", "type": "quantitative", "scale": {"domain": [0, 0.6], "nice": false},
          "axis": {"orient": "left", "values": [0,0.05,0.1,0.15,0.2,0.25,0.3,0.35,0.4,0.45,0.5,0.55,0.6], "labelExpr": "datum.value == 0 ? '0' : (round(datum.value * 100) % 10 == 0 ? format(datum.value, '.1f') : '')", "title": "App. Mean Wave Freq. (Hz)", "labelPadding": 19, "titlePadding": 36}},
    "color": {"field": "g", "type": "quantitative",
          "scale": {"domain": [-0.001, 4.0625, 12.1875, 20.3125, 28.4375, 32.5], "range": ["#000080", "#0000ff", "#00ffff", "#ffff00", "#ff0000", "#800000"], "interpolate": "rgb"},
          "legend": {"orient": "none", "legendX": 758, "legendY": 0, "direction": "vertical", "padding": 0, "gradientLength": 404, "gradientThickness": 18, "gradientStrokeColor": "#444444", "gradientStrokeWidth": 1, "values": [0,5,10,15,20,25,30], "labelOverlap": false, "labelOffset": -51, "labelExpr": "datum.value < 10 ? '\u2007' + datum.label : datum.label", "title": "GPS #", "titleOrient": "bottom", "titleAnchor": "end", "titlePadding": 36}}
   }},
  {"data": {"name": "td"}, "mark": {"type": "square", "size": 8, "color": "#000000", "opacity": 1},
   "encoding": {
    "x": {"field": "h", "type": "quantitative", "scale": {"domain": [0, 24], "nice": false, "zero": false},
          "axis": {"orient": "top", "values": [0,1.5,3,4.5,6,7.5,9,10.5,12,13.5,15,16.5,18,19.5,21,22.5,24], "labels": false, "title": null}},
    "y": {"field": "s", "type": "quantitative", "scale": {"domain": [0, 50], "nice": false},
          "axis": {"orient": "right", "values": [0,5,10,15,20,25,30,35,40,45,50], "labelExpr": "datum.value % 10 == 0 ? format(datum.value, 'd') : ''", "title": "Specular Point Speed (m/s)", "labelPadding": 16, "titlePadding": 27}}
   }}
 ],
 "resolve": {"scale": {"y": "independent"}, "axis": {"x": "independent", "y": "independent"}}
},
{
 "width": 670, "height": 401,
 "layer": [
  {"data": {"name": "bq"}, "mark": {"type": "square", "size": 32, "opacity": 1},
   "encoding": {
    "x": {"field": "h", "type": "quantitative", "scale": {"domain": [0, 24], "nice": false, "zero": false},
          "axis": {"orient": "bottom", "values": [0,1.5,3,4.5,6,7.5,9,10.5,12,13.5,15,16.5,18,19.5,21,22.5,24], "labelExpr": "datum.value % 3 == 0 ? format(datum.value, 'd') : ''", "title": "Universal Time (hr) on DOY 346, 2019", "labelPadding": 21, "titlePadding": 3}},
    "y": {"field": "f", "type": "quantitative", "scale": {"domain": [0, 0.4], "nice": false},
          "axis": {"orient": "left", "values": [0,0.05,0.1,0.15,0.2,0.25,0.3,0.35,0.4], "labelExpr": "datum.value == 0 ? '0' : (round(datum.value * 100) % 10 == 0 ? format(datum.value, '.1f') : '')", "title": "App. Mean Wave Freq. (Hz)", "labelPadding": 19, "titlePadding": 36}},
    "color": {"field": "g", "type": "quantitative",
          "scale": {"domain": [-0.001, 4.0625, 12.1875, 20.3125, 28.4375, 32.5], "range": ["#000080", "#0000ff", "#00ffff", "#ffff00", "#ff0000", "#800000"], "interpolate": "rgb"},
          "legend": {"orient": "none", "legendX": 758, "legendY": 0, "direction": "vertical", "padding": 0, "gradientLength": 401, "gradientThickness": 18, "gradientStrokeColor": "#444444", "gradientStrokeWidth": 1, "values": [0,5,10,15,20,25,30], "labelOverlap": false, "labelOffset": -51, "labelExpr": "datum.value < 10 ? '\u2007' + datum.label : datum.label", "title": "GPS #", "titleOrient": "bottom", "titleAnchor": "end", "titlePadding": 36}}
   }},
  {"data": {"name": "bd"}, "mark": {"type": "square", "size": 8, "color": "#000000", "opacity": 1},
   "encoding": {
    "x": {"field": "h", "type": "quantitative", "scale": {"domain": [0, 24], "nice": false, "zero": false},
          "axis": {"orient": "top", "values": [0,1.5,3,4.5,6,7.5,9,10.5,12,13.5,15,16.5,18,19.5,21,22.5,24], "labels": false, "title": null}},
    "y": {"field": "s", "type": "quantitative", "scale": {"domain": [0, 50], "nice": false},
          "axis": {"orient": "right", "values": [0,5,10,15,20,25,30,35,40,45,50], "labelExpr": "datum.value % 10 == 0 ? format(datum.value, 'd') : ''", "title": "Specular Point Speed (m/s)", "labelPadding": 16, "titlePadding": 27}}
   }}
 ],
 "resolve": {"scale": {"y": "independent"}, "axis": {"x": "independent", "y": "independent"}}
}
]
}
